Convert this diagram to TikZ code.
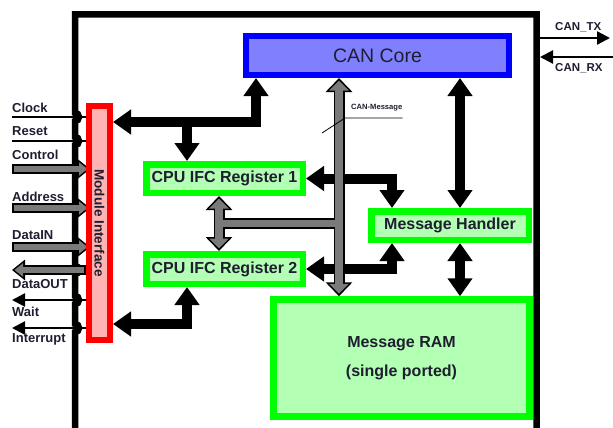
\documentclass[tikz,border=0pt]{standalone}
\usepackage{fontspec}
\setmainfont{Liberation Sans}
\usetikzlibrary{arrows.meta}
\pgfdeclarelayer{bg}
\pgfsetlayers{bg,main}

\definecolor{txt}{RGB}{30,30,48}
\definecolor{coreblue}{RGB}{0,0,255}
\definecolor{corefill}{RGB}{128,128,255}
\definecolor{boxgreen}{RGB}{0,255,0}
\definecolor{greenfill}{RGB}{179,255,179}
\definecolor{mired}{RGB}{255,0,0}
\definecolor{mifill}{RGB}{255,179,179}
\definecolor{busgray}{RGB}{122,122,122}

\tikzset{
  greenbox/.style={draw=boxgreen, fill=greenfill, line width=6.5pt, inner sep=0pt,
    text=txt, font=\fontsize{16}{18}\selectfont\bfseries},
  corebox/.style={draw=coreblue, fill=corefill, line width=6pt, inner sep=0pt,
    text=txt, font=\fontsize{19.5}{22}\selectfont},
  mibox/.style={draw=mired, fill=mifill, line width=6pt, inner sep=0pt},
  lbl/.style={inner sep=0pt, anchor=west, text=txt, font=\fontsize{13}{15}\selectfont\bfseries},
  % thick black data paths
  bigtip/.tip={Triangle[width=24pt,length=18pt]},
  bigarrow/.style={line width=10pt, line join=miter, bigtip-bigtip},
  bigend/.style={line width=10pt, -bigtip},
  % grey buses: black outline layer, then grey core layer
  busout/.style={line width=11pt, black, {Triangle[width=26pt,length=14pt]}-{Triangle[width=26pt,length=14pt]}},
  busin/.style={line width=7.5pt, busgray, shorten <=2.5pt, shorten >=2.5pt,
    {Triangle[width=19pt,length=10pt]}-{Triangle[width=19pt,length=10pt]}},
  busbarout/.style={line width=11pt, black},
  busbarin/.style={line width=7.5pt, busgray},
  % grey pin buses on the left
  pinout/.style={line width=9.5pt, black, -{Triangle[width=20pt,length=13pt]}},
  pinin/.style={line width=5.5pt, busgray, shorten <=2pt, shorten >=2.5pt,
    -{Triangle[width=13pt,length=8.5pt]}},
  pinline/.style={line width=2.3pt, black},
  pinarrow/.style={line width=2.3pt, black, -{Triangle[width=13pt,length=13pt]}},
}

\begin{document}
\begin{tikzpicture}[x=1pt,y=-1pt]
\useasboundingbox (0,0) rectangle (613,428);
\clip (0,0) rectangle (613,428);

% blocks
\node[corebox, minimum width=263pt, minimum height=39pt] (core) at (377.5,55.5) {CAN Core};
\node[mibox, minimum width=21pt, minimum height=234pt] (mi) at (99.5,223) {};
\node[rotate=-90, inner sep=0pt, text=txt, font=\fontsize{13.5}{15}\selectfont\bfseries] (milabel) at (mi.center) {Module Interface};
\node[greenbox, minimum width=156.5pt, minimum height=28.5pt] (reg1) at (224.5,178.5) {CPU IFC Register 1};
\node[greenbox, minimum width=156.5pt, minimum height=29.5pt] (reg2) at (224.5,269) {CPU IFC Register 2};
\node[greenbox, minimum width=157.5pt, minimum height=28.5pt] (mh) at (450,225.5) {Message Handler};
\node[greenbox, minimum width=256pt, minimum height=117pt, align=center,
  font=\fontsize{16}{29}\selectfont\bfseries] (ram) at (401.5,358) {Message RAM\\(single ported)};

% pin labels
\node[lbl] (lclock) at (12,108) {Clock};
\node[lbl] (lreset) at (12,131) {Reset};
\node[lbl] (lcontrol) at (12,155) {Control};
\node[lbl] (laddress) at (12,197) {Address};
\node[lbl] (ldatain) at (12,235) {DataIN};
\node[lbl] (ldataout) at (12,284) {DataOUT};
\node[lbl] (lwait) at (12,312) {Wait};
\node[lbl] (lint) at (12,339) {Interrupt};
\node[lbl, font=\fontsize{11.5}{13}\selectfont\bfseries] (ltx) at (555,27) {CAN\_TX};
\node[lbl, font=\fontsize{11.5}{13}\selectfont\bfseries] (lrx) at (555,68) {CAN\_RX};
\node[lbl, font=\fontsize{7.6}{9}\selectfont\bfseries] (lmsg) at (351,108) {CAN-Message};

% free ends of the pins
\coordinate (pclock) at (12,117);
\coordinate (preset) at (12,141);
\coordinate (pcontrol) at (12,169);
\coordinate (paddress) at (12,208);
\coordinate (pdatain) at (12,247);
\coordinate (pdataout) at (12,270);
\coordinate (pwait) at (12,300);
\coordinate (pint) at (12,328);
\coordinate (txend) at (610,38);
\coordinate (rxstart) at (613,57);
\coordinate (border) at (540,0);
\coordinate (j1) at (187,122);

\begin{pgfonlayer}{bg}
  % module frame, hopping over the pin lines
  \draw[line width=6.5pt, line join=miter]
    (75,440) -- (75,332) arc[start angle=90,end angle=-90,radius=4]
    -- (75,304) arc[start angle=90,end angle=-90,radius=4]
    -- (75,274) arc[start angle=90,end angle=-90,radius=4]
    -- (75,251) arc[start angle=90,end angle=-90,radius=4]
    -- (75,212) arc[start angle=90,end angle=-90,radius=4]
    -- (75,173) arc[start angle=90,end angle=-90,radius=4]
    -- (75,145) arc[start angle=90,end angle=-90,radius=4]
    -- (75,121) arc[start angle=90,end angle=-90,radius=4]
    -- (75,14.5) -- (536.5,14.5) -- (536.5,440);

  % pins
  \draw[pinline] (pclock) -- (mi.west |- pclock);
  \draw[pinline] (preset) -- (mi.west |- preset);
  \foreach \p in {pcontrol,paddress,pdatain} {
    \draw[pinout] (\p) -- ([xshift=4pt]mi.west |- \p);
    \draw[pinin] (\p) -- ([xshift=4pt]mi.west |- \p);
  }
  \draw[pinout] (mi.west |- pdataout) -- (pdataout);
  \draw[pinin] (mi.west |- pdataout) -- (pdataout);
  \draw[pinarrow] (mi.west |- pwait) -- (pwait);
  \draw[pinarrow] (mi.west |- pint) -- (pint);
  \draw[pinarrow] (border |- txend) -- (txend);
  \draw[pinarrow] (rxstart) -- (border |- rxstart);

  % black data paths
  \draw[bigarrow] (mi.east |- j1) -| (core.south -| 256,0);
  \draw[bigend] (j1) -- (reg1.north -| j1);
  \draw[bigarrow] (mi.east |- 0,324) -| (reg2.south -| j1);
  \draw[bigarrow] (reg1.east) -| (mh.north -| 392,0);
  \draw[bigarrow] (reg2.east) -| (mh.south -| 392,0);
  \draw[bigarrow] (core.south -| 460,0) -- (mh.north -| 460,0);
  \draw[bigarrow] (mh.south -| 460,0) -- (ram.north -| 460,0);

  % grey CAN message bus
  \draw[busout] (core.south -| 339,0) -- (ram.north -| 339,0);
  \draw[busout] (reg1.south -| 219,0) -- (reg2.north -| 219,0);
  \draw[busbarout] (219,223.5) -- (339,223.5);
  \draw[busin] (core.south -| 339,0) -- (ram.north -| 339,0);
  \draw[busin] (reg1.south -| 219,0) -- (reg2.north -| 219,0);
  \draw[busbarin] (219,223.5) -- (339,223.5);
\end{pgfonlayer}

% leader of the bus label
\draw[line width=0.8pt] (322,133) -- (345,118) -- (lmsg.south east |- 0,118);
\end{tikzpicture}
\end{document}
